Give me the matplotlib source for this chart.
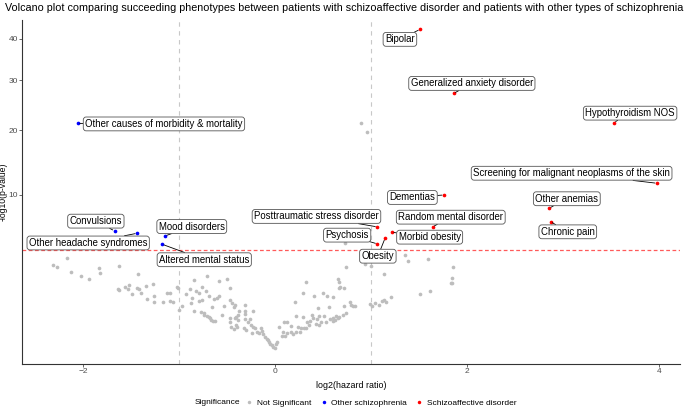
import numpy as np
import matplotlib.pyplot as plt

plt.rcParams['font.family'] = ['Liberation Sans', 'DejaVu Sans']

# not significant phenotypes (log2 HR, -log10 p)
ns_x = [-2.32, -2.28, -2.17, -2.13, -2.02, -1.94, -1.84, -1.83, -1.63, -1.64,
        -1.63, -1.57, -1.52, -1.53, -1.49, -1.44, -1.43, -1.42, -1.40, -1.35,
        -1.34, -1.27, -1.26, -1.26, -1.17, -1.13, -1.10, -1.10, -1.07, -1.02,
        -1.01, -0.97, -1.00, -0.93, -0.89, -0.87, -0.88, -0.85, -0.85, -0.83,
        -0.79, -0.79, -0.76, -0.76, -0.77, -0.74, -0.72, -0.71, -0.69, -0.74,
        -0.71, -0.69, -0.68, -0.67, -0.65, -0.63, -0.66, -0.64, -0.61, -0.59,
        -0.59, -0.55, -0.53, -0.50, -0.47, -0.47, -0.45, -0.47, -0.47, -0.46,
        -0.42, -0.41, -0.39, -0.42, -0.41, -0.39, -0.40, -0.43, -0.43, -0.38,
        -0.32, -0.31, -0.31, -0.32, -0.33, -0.30, -0.28, -0.26, -0.25, -0.23,
        -0.23, -0.24, -0.21, -0.19, -0.17, -0.15, -0.14, -0.13, -0.11, -0.09,
        -0.08, -0.06, -0.05, -0.03, -0.02, 0.00, 0.01, 0.02, 0.04, 0.07,
        0.08, 0.09, 0.10, 0.12, 0.12, 0.16, 0.16, 0.19, 0.21, 0.22,
        0.22, 0.24, 0.26, 0.27, 0.29, 0.29, 0.30, 0.32, 0.32, 0.33,
        0.35, 0.36, 0.38, 0.39, 0.40, 0.42, 0.44, 0.45, 0.46, 0.50,
        0.54, 0.46, 0.48, 0.51, 0.53, 0.56, 0.57, 0.60, 0.63, 0.65,
        0.67, 0.74, 0.67, 0.68, 0.72, 0.60, 0.78, 0.79, 0.81, 0.83,
        0.72, 0.74, 0.71, 0.67, 0.65, 0.62, 0.60, 0.94, 1.00, 1.13,
        0.99, 1.01, 1.04, 1.08, 1.11, 1.13, 1.16, 1.21, 1.35, 1.38,
        1.59, 1.51, 1.61, 1.85, 1.84, 1.83, 1.84, 0.73, 0.89, 0.96]
ns_y = [3.04, 2.89, 3.54, 2.59, 2.30, 2.16, 2.86, 2.53, 3.00, 1.57,
        1.55, 1.68, 1.80, 1.60, 1.34, 1.66, 2.47, 1.59, 1.38, 1.76,
        1.12, 1.85, 1.27, 0.99, 1.01, 1.41, 1.38, 1.04, 0.98, 1.71,
        1.66, 0.84, 0.70, 1.35, 1.59, 1.18, 0.97, 0.66, 2.10, 1.49,
        1.38, 1.02, 1.08, 1.71, 0.64, 0.59, 1.50, 2.34, 1.25, 0.54,
        0.51, 0.49, 0.46, 0.41, 0.38, 0.38, 0.81, 1.12, 1.18, 2.02,
        1.25, 0.55, 0.85, 2.12, 1.66, 1.06, 0.94, 0.45, 0.36, 0.24,
        0.45, 0.49, 0.54, 0.88, 0.28, 0.39, 0.24, 0.20, 0.81, 0.67,
        0.88, 0.66, 0.56, 0.43, 0.23, 0.19, 0.34, 0.43, 0.28, 0.66,
        0.24, 0.14, 0.22, 0.15, 0.14, 0.23, 0.17, 0.12, 0.084, 0.062,
        0.052, 0.038, 0.024, 0.016, 0.009, 0.004, 0.024, 0.038, 0.25, 0.10,
        0.15, 0.36, 0.10, 0.36, 0.13, 0.15, 0.27, 0.12, 0.98, 0.16,
        0.52, 0.25, 0.15, 0.23, 0.49, 1.41, 0.22, 0.23, 1.95, 0.36,
        0.28, 0.38, 0.54, 0.46, 1.27, 0.31, 0.43, 0.76, 0.52, 1.41,
        1.27, 0.28, 0.36, 0.52, 0.34, 0.81, 0.43, 0.46, 0.52, 2.14,
        1.66, 2.93, 1.98, 1.68, 1.66, 1.22, 1.01, 0.88, 0.84, 0.84,
        0.84, 0.59, 0.54, 0.49, 0.46, 0.41, 0.38, 3.10, 3.00, 2.43,
        0.90, 0.85, 0.94, 0.88, 1.04, 1.06, 0.98, 1.19, 3.80, 3.34,
        3.46, 1.33, 1.49, 2.91, 2.22, 1.93, 1.91, 4.83, 21.3, 19.6]

# significantly enriched in other schizophrenia
blue_names = ['Other causes of morbidity & mortality', 'Convulsions',
              'Other headache syndromes', 'Mood disorders', 'Altered mental status']
blue_x = [-2.06, -1.675, -1.44, -1.15, -1.18]
blue_y = [21.25, 5.93, 5.70, 5.44, 4.69]

# significantly enriched in schizoaffective disorder
red_names = ['Bipolar', 'Generalized anxiety disorder', 'Hypothyroidism NOS',
             'Screening for malignant neoplasms of the skin', 'Other anemias',
             'Chronic pain', 'Dementias', 'Random mental disorder',
             'Posttraumatic stress disorder', 'Morbid obesity', 'Psychosis', 'Obesity']
red_x = [1.51, 1.86, 3.53, 3.98, 2.855, 2.87, 1.76, 1.64, 1.065, 1.215, 1.065, 1.145]
red_y = [42.4, 27.2, 21.4, 11.55, 8.37, 6.88, 10.0, 6.33, 6.33, 5.80, 4.72, 5.23]

threshold = 4.2

# where the repelled labels ended up
blue_lab = [(-1.16, 21.15), (-1.87, 6.93), (-1.95, 4.80), (-0.87, 6.37), (-0.74, 3.43)]
red_lab = [(1.30, 39.8), (2.05, 29.35), (3.70, 23.2), (3.09, 12.97), (3.04, 9.52),
           (3.05, 5.84), (1.43, 9.68), (1.83, 7.36), (0.43, 7.44), (1.61, 5.33),
           (0.75, 5.52), (1.07, 3.70)]


def fwd(v):
    v = np.asarray(v, dtype=float)
    return np.sign(v) * np.sqrt(np.abs(v))


def inv(v):
    v = np.asarray(v, dtype=float)
    return np.sign(v) * v ** 2


fig = plt.figure(figsize=(6.85, 4.08), dpi=100)
ax = fig.add_axes([22 / 685, 1 - 364 / 408, 658 / 685, 344 / 408])
ax.set_yscale('function', functions=(fwd, inv))

ax.axvline(-1, color='#c8c8c8', ls=(0, (4, 4)), lw=0.8, zorder=1)
ax.axvline(1, color='#c8c8c8', ls=(0, (4, 4)), lw=0.8, zorder=1)
ax.axhline(threshold, color='#ff5a5a', ls=(0, (3, 2)), lw=0.9, zorder=1)

ax.scatter(ns_x, ns_y, s=7, color='#bdbdbd', linewidths=0, zorder=2)
ax.scatter(blue_x, blue_y, s=7, color='#0000ff', linewidths=0, zorder=3)
ax.scatter(red_x, red_y, s=7, color='#ff0000', linewidths=0, zorder=3)

box = dict(boxstyle='round,pad=0.2,rounding_size=0.3', fc='white', ec='#555555', lw=0.6)
for names, xs, ys, labs in [(blue_names, blue_x, blue_y, blue_lab),
                            (red_names, red_x, red_y, red_lab)]:
    for n, px, py, (lx, ly) in zip(names, xs, ys, labs):
        ax.annotate(n, xy=(px, py), xytext=(lx, ly), ha='center', va='center',
                    fontsize=6.9, color='black', bbox=box, zorder=5,
                    arrowprops=dict(arrowstyle='-', color='black', lw=0.6,
                                    shrinkA=0, shrinkB=1.5))

ax.set_xlim(-2.64, 4.22)
ax.set_ylim(-0.066, 44.9)
ax.set_xticks([-2, 0, 2, 4])
ax.set_yticks([10, 20, 30, 40])
ax.tick_params(labelsize=6, colors='#4d4d4d', length=2, width=0.6, pad=1)
for sp in ['top', 'right']:
    ax.spines[sp].set_visible(False)
for sp in ['left', 'bottom']:
    ax.spines[sp].set_linewidth(0.8)
    ax.spines[sp].set_color('#333333')
ax.set_xlabel('log2(hazard ratio)', fontsize=6.4, labelpad=4)
ax.set_ylabel('-log10(p-value)', fontsize=6.2)
ax.yaxis.set_label_coords(-14 / 658, 0.5)

fig.text(5 / 685, 1 - 8 / 408,
         'Volcano plot comparing succeeding phenotypes between patients with '
         'schizoaffective disorder and patients with other types of schizophrenia',
         fontsize=7.75, va='center', ha='left')

# legend along the bottom
h = [plt.Line2D([], [], marker='o', ls='', ms=2.5, color=c, mec='none')
     for c in ['#bdbdbd', '#0000ff', '#ff0000']]
fig.text(217 / 685, 1 - 403 / 408, 'Significance', fontsize=6.0, ha='center', va='center')
fig.legend(h, ['Not Significant', 'Other schizophrenia', 'Schizoaffective disorder'],
           loc='center left', bbox_to_anchor=(245 / 685, 1 - 403 / 408), ncol=3,
           frameon=False, fontsize=6.0, handlelength=1.0, handletextpad=0.4,
           columnspacing=1.0, borderpad=0, borderaxespad=0)

fig.savefig('out.png', dpi=100)
